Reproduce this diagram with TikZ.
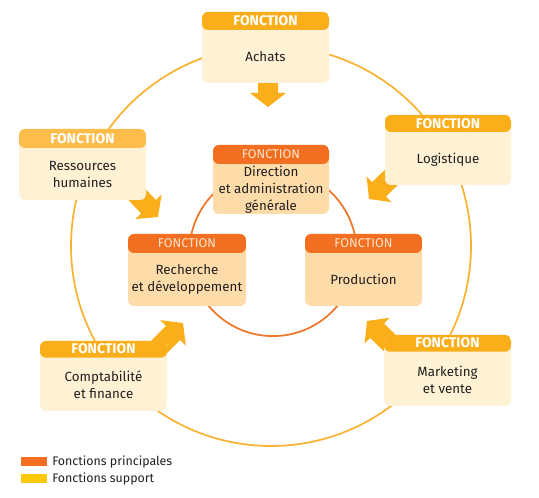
\documentclass[tikz,border=0pt]{standalone}
\usepackage{fontspec}
\setmainfont{Fira Sans}
\definecolor{phead}{HTML}{F26F21}
\definecolor{pbody}{HTML}{FDDCAA}
\definecolor{shead}{HTML}{F9AE1A}
\definecolor{rhead}{HTML}{FCBD4B}
\definecolor{sbody}{HTML}{FEF1D4}
\definecolor{outerc}{HTML}{F9B233}
\definecolor{innerc}{HTML}{EE7628}
\definecolor{arrowc}{HTML}{F9AE1A}
\definecolor{txt}{HTML}{231F20}
\definecolor{ptxt}{HTML}{FDE5CB}
\definecolor{legy}{HTML}{FFC80B}
\begin{document}
\begin{tikzpicture}[x=0.75pt,y=-0.75pt,
  fbox/.style={rectangle, rounded corners=4.5pt, inner sep=0pt, draw=none},
  shtext/.style={font=\fontsize{10.5}{12}\selectfont\bfseries, text=white, inner sep=0pt},
  phtext/.style={font=\fontsize{9.5}{11}\selectfont, text=ptxt, inner sep=0pt},
  btext/.style={font=\fontsize{10}{12.75}\selectfont, text=txt, align=center, inner sep=0pt},
  ltext/.style={font=\fontsize{9.3}{11}\selectfont, text=txt, anchor=west, inner sep=0pt},
  fatarrow/.style={fill=arrowc}
]
\useasboundingbox (0,0) rectangle (539,498);
% circles
\node[circle, draw=outerc, line width=1.3pt, minimum size=300pt, inner sep=0pt] (outer) at (271,246) {};
\node[circle, draw=innerc, line width=1.3pt, minimum size=125.4pt, inner sep=0pt] (inner) at (273,252.5) {};
% fat arrows
\fill[fatarrow, shift={(268,107)}, rotate=-90] (0,0) -- (-14,18) -- (-14,10) -- (-34,10) -- (-34,-10) -- (-14,-10) -- (-14,-18) -- cycle;
\fill[fatarrow, shift={(158,217)}, rotate=-47] (0,0) -- (-14,18) -- (-14,10) -- (-40,10) -- (-40,-10) -- (-14,-10) -- (-14,-18) -- cycle;
\fill[fatarrow, shift={(369,199)}, rotate=-136] (0,0) -- (-14,18) -- (-14,10) -- (-40,10) -- (-40,-10) -- (-14,-10) -- (-14,-18) -- cycle;
\fill[fatarrow, shift={(183,323)}, rotate=45] (0,0) -- (-14,18) -- (-14,10) -- (-40,10) -- (-40,-10) -- (-14,-10) -- (-14,-18) -- cycle;
\fill[fatarrow, shift={(367,321)}, rotate=136] (0,0) -- (-14,18) -- (-14,10) -- (-40,10) -- (-40,-10) -- (-14,-10) -- (-14,-18) -- cycle;
% boxes
\node[fbox, fill=sbody, minimum width=95.25pt, minimum height=53.25pt,
  path picture={\fill[shead] (path picture bounding box.north west) rectangle ([yshift=-13.5pt]path picture bounding box.north east);}] (achatsbox) at (265.5,47.5) {};
\node[fbox, fill=pbody, minimum width=87pt, minimum height=51.75pt,
  path picture={\fill[phead] (path picture bounding box.north west) rectangle ([yshift=-14.25pt]path picture bounding box.north east);}] (dirbox) at (271,179.5) {};
\node[fbox, fill=pbody, minimum width=88.5pt, minimum height=54pt,
  path picture={\fill[phead] (path picture bounding box.north west) rectangle ([yshift=-14.25pt]path picture bounding box.north east);}] (rechbox) at (187,270) {};
\node[fbox, fill=pbody, minimum width=87.75pt, minimum height=54pt,
  path picture={\fill[phead] (path picture bounding box.north west) rectangle ([yshift=-14.25pt]path picture bounding box.north east);}] (prodbox) at (363.5,270) {};
\node[fbox, fill=sbody, minimum width=95.25pt, minimum height=53.25pt,
  path picture={\fill[rhead] (path picture bounding box.north west) rectangle ([yshift=-14.25pt]path picture bounding box.north east);}] (rhbox) at (82.5,164.5) {};
\node[fbox, fill=sbody, minimum width=94.5pt, minimum height=52.5pt,
  path picture={\fill[shead] (path picture bounding box.north west) rectangle ([yshift=-12.75pt]path picture bounding box.north east);}] (logbox) at (448,150) {};
\node[fbox, fill=sbody, minimum width=95.25pt, minimum height=52.5pt,
  path picture={\fill[shead] (path picture bounding box.north west) rectangle ([yshift=-12.5pt]path picture bounding box.north east);}] (compbox) at (103.5,376) {};
\node[fbox, fill=sbody, minimum width=95.25pt, minimum height=53.25pt,
  path picture={\fill[shead] (path picture bounding box.north west) rectangle ([yshift=-12.5pt]path picture bounding box.north east);}] (markbox) at (447.5,370.5) {};
% header texts
\node[shtext] (achatsh) at (265.5,21) {FONCTION};
\node[phtext] (dirh) at (271,154.5) {FONCTION};
\node[phtext] (rechh) at (187,243.5) {FONCTION};
\node[phtext] (prodh) at (363.5,243.5) {FONCTION};
\node[shtext] (rhh) at (82.5,138.5) {FONCTION};
\node[shtext] (logh) at (448,123.5) {FONCTION};
\node[shtext] (comph) at (103.5,349) {FONCTION};
\node[shtext] (markh) at (447.5,343) {FONCTION};
% body texts
\node[btext] (achats) at (265.5,56.5) {Achats};
\node[btext] (dir) at (271,189.5) {Direction\\et administration\\générale};
\node[btext] (rech) at (187,279.5) {Recherche\\et développement};
\node[btext] (prod) at (363.5,279.5) {Production};
\node[btext] (rh) at (82.5,174.5) {Ressources\\humaines};
\node[btext] (log) at (448,160) {Logistique};
\node[btext] (comp) at (103.5,385) {Comptabilité\\et finance};
\node[btext] (mark) at (447.5,380) {Marketing\\et vente};
% legend
\fill[phead] (21,457) rectangle (47,466);
\fill[legy] (21,474) rectangle (47,483);
\node[ltext] (legp) at (52,461.5) {Fonctions principales};
\node[ltext] (legs) at (52,478.5) {Fonctions support};
\end{tikzpicture}
\end{document}
